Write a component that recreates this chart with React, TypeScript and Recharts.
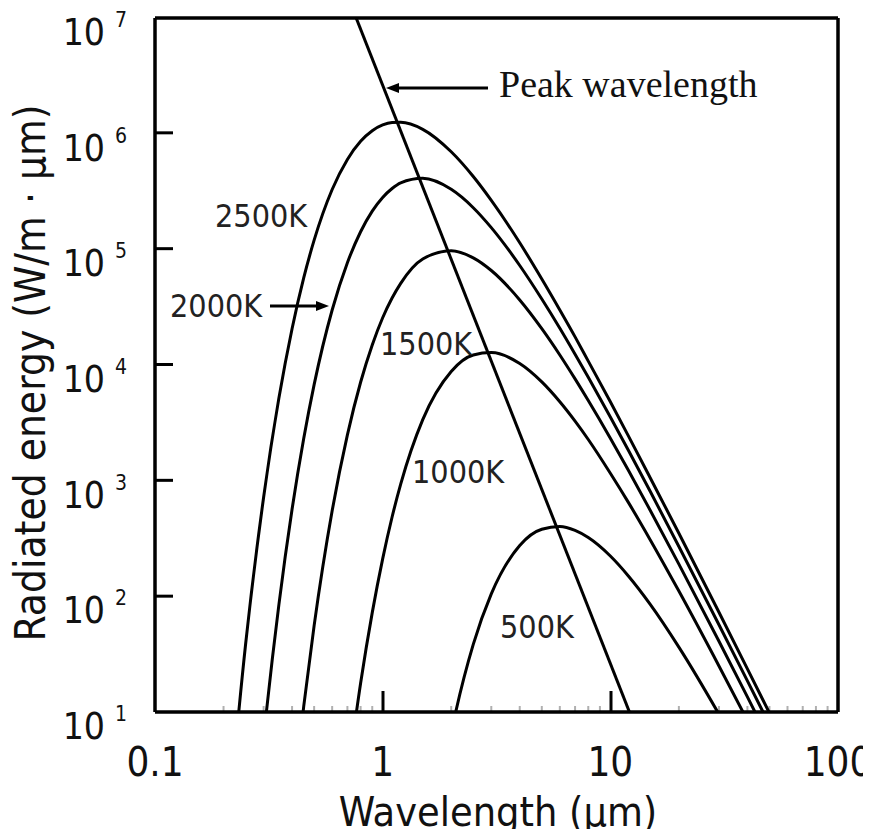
import React from 'react';
import { LineChart, Line, XAxis, YAxis, ReferenceLine } from 'recharts';

// wavelength in micrometres
const wavelengths = [0.2, 0.25, 0.3, 0.35, 0.4, 0.45, 0.5, 0.6, 0.7, 0.8, 0.9, 1, 1.1, 1.2, 1.5, 2, 2.5, 3, 4, 5, 6, 7, 8, 10, 12, 15, 20, 30, 40, 50, 60];

// radiated energy W/(m^2 um)
const k2500 = [0.37, 38.5, 718, 5150, 20600, 56600, 120000, 329000, 599000, 859000, 1060000, 1190000, 1248000, 1253000, 1090000, 697000, 426000, 265000, 114000, 55400, 29900, 17500, 10800, 4810, 2440, 1050, 351, 72.8, 23.6, 9.8, 4.78];
const k2000 = [null, 0.122, 5.93, 84.4, 565, 2310, 6760, 29900, 76600, 142000, 214000, 281000, 336000, 376000, 411000, 330000, 229000, 154000, 72500, 37200, 20800, 12400, 7830, 3550, 1830, 801, 270, 56.8, 18.6, 7.74, 3.78];
const k1500 = [null, null, null, 0.089, 1.41, 11.2, 55.8, 549, 2490, 7090, 14900, 25600, 37900, 50800, 82500, 97400, 84400, 65600, 36500, 20600, 12200, 7580, 4930, 2330, 1230, 550, 190, 40.9, 13.5, 5.66, null];
const k1000 = [null, null, null, null, null, null, null, null, 2.64, 17.7, 72.3, 211, 485, 933, 3370, 8790, 12200, 12800, 10300, 7140, 4810, 3270, 2270, 1160, 649, 306, 111, 25.0, 8.44, 3.59, null];
const k500 = [null, null, null, null, null, null, null, null, null, null, null, null, null, null, 0.23, 6.6, 38.4, 105, 275, 380, 401, 371, 322, 223, 150, 84.8, 36.4, 9.57, 3.47, null, null];
// peak wavelength line (Wien), two end points
const peak = [null, null, null, null, null, null, null, null, 15600000, null, null, null, null, null, null, null, null, null, null, null, null, null, null, null, null, 3.46, null, null, null, null, null];

const xMajor = [0.1, 1, 10, 100];
const xMajorLabels = ['0.1', '1', '10', '100'];
const xMinor = [0.2, 0.3, 0.4, 0.5, 0.6, 0.7, 0.8, 0.9, 2, 3, 4, 5, 6, 7, 8, 9, 20, 30, 40, 50, 60, 70, 80, 90];
const yTicks = [10, 100, 1000, 10000, 100000, 1000000, 10000000];
const yExponents = ['1', '2', '3', '4', '5', '6', '7'];

const data = wavelengths.map((lambda, i) => ({
  lambda,
  k2500: k2500[i],
  k2000: k2000[i],
  k1500: k1500[i],
  k1000: k1000[i],
  k500: k500[i],
  peak: peak[i],
}));

const X_MIN = 0.1;
const X_MAX = 100;
const Y_MIN = 10;
const Y_MAX = 10000000;

// plot box in px (chart margins + axis sizes below)
const PLOT = { left: 155, top: 17, right: 839, bottom: 712 };
const xDecadePx = (PLOT.right - PLOT.left) / 3;
const yDecadePx = (PLOT.bottom - PLOT.top) / 6;
const up = (px: number) => Y_MIN * Math.pow(10, px / yDecadePx);
const px = (v: number) => PLOT.left + Math.log10(v / X_MIN) * xDecadePx;
const py = (v: number) => PLOT.bottom - Math.log10(v / Y_MIN) * yDecadePx;

const sans = '"DejaVu Sans Condensed", "DejaVu Sans", sans-serif';
const serif = '"Liberation Serif", "DejaVu Serif", serif';

const XLabel = (props: any) => {
  const { x, y, payload } = props;
  const i = xMajor.findIndex((m) => Math.abs(m - payload.value) < 1e-9);
  return (
    <text x={x} y={y + 64} textAnchor="middle" fontFamily={sans} fontSize={40} fill="#111">
      {xMajorLabels[i]}
    </text>
  );
};

const YLabel = (props: any) => {
  const { x, y, payload } = props;
  const i = yTicks.indexOf(payload.value);
  return (
    <g>
      <text x={x - 50} y={y + 27} textAnchor="end" fontFamily={sans} fontSize={37} fill="#111">
        10
      </text>
      <text x={x - 40} y={y + 9} fontFamily={sans} fontSize={21} fill="#111">
        {yExponents[i]}
      </text>
    </g>
  );
};

const curve = { type: 'monotone' as const, stroke: '#000', strokeWidth: 3, dot: false, isAnimationActive: false };
const frame = { stroke: '#000', strokeWidth: 3.5 };

export default function App() {
  return (
    <div style={{ position: 'relative', width: 871, height: 837, margin: -8, background: '#fff', overflow: 'hidden' }}>
      <LineChart width={871} height={837} data={data} margin={{ top: 17, right: 32, bottom: 0, left: 0 }}>
        <XAxis
          dataKey="lambda"
          type="number"
          scale="log"
          domain={[X_MIN, X_MAX]}
          ticks={xMajor}
          interval={0}
          tick={<XLabel />}
          tickLine={false}
          tickSize={0}
          tickMargin={0}
          height={125}
          allowDataOverflow
          axisLine={frame}
        />
        <XAxis xAxisId="top" orientation="top" type="number" scale="log" domain={[X_MIN, X_MAX]} height={1} tick={false} tickLine={false} axisLine={frame} allowDataOverflow />
        <YAxis
          type="number"
          scale="log"
          domain={[Y_MIN, Y_MAX]}
          ticks={yTicks}
          interval={0}
          tick={<YLabel />}
          tickLine={false}
          tickSize={0}
          tickMargin={0}
          width={155}
          allowDataOverflow
          axisLine={frame}
        />
        <YAxis yAxisId="right" orientation="right" type="number" scale="log" domain={[Y_MIN, Y_MAX]} width={1} tick={false} tickLine={false} axisLine={frame} allowDataOverflow />
        {xMinor.map((v) => (
          <ReferenceLine key={`xm${v}`} segment={[{ x: v, y: Y_MIN }, { x: v, y: up(6) }]} stroke="#b0b0b0" strokeWidth={2} />
        ))}
        <Line dataKey="k2500" {...curve} />
        <Line dataKey="k2000" {...curve} />
        <Line dataKey="k1500" {...curve} />
        <Line dataKey="k1000" {...curve} />
        <Line dataKey="k500" {...curve} />
        <Line dataKey="peak" type="linear" stroke="#000" strokeWidth={3} dot={false} connectNulls isAnimationActive={false} />
      </LineChart>
      <svg width={871} height={837} style={{ position: 'absolute', left: 0, top: 0, pointerEvents: 'none' }}>
        {/* inward major ticks */}
        {xMajor.slice(1, -1).map((v) => (
          <line key={`xt${v}`} x1={px(v)} x2={px(v)} y1={PLOT.bottom} y2={PLOT.bottom - 21} stroke="#000" strokeWidth={3} />
        ))}
        {yTicks.slice(1, -1).map((v) => (
          <line key={`yt${v}`} x1={PLOT.left} x2={PLOT.left + 18} y1={py(v)} y2={py(v)} stroke="#000" strokeWidth={3} />
        ))}
        <text x={499} y={97} fontFamily={serif} fontSize={38} fill="#111">Peak wavelength</text>
        <line x1={488} y1={88} x2={395} y2={88} stroke="#000" strokeWidth={3} />
        <polygon points="386,88 399,83 399,93" fill="#000" />
        <g fontFamily={sans} fontSize={32} fill="#222">
          <text x={215} y={227}>2500K</text>
          <text x={170} y={317}>2000K</text>
          <text x={380} y={355}>1500K</text>
          <text x={412} y={483}>1000K</text>
          <text x={500} y={638}>500K</text>
        </g>
        <line x1={270} y1={306} x2={318} y2={306} stroke="#000" strokeWidth={3} />
        <polygon points="329,306 316,301 316,311" fill="#000" />
        <text x={498} y={826} textAnchor="middle" fontFamily={sans} fontSize={41} fill="#111">Wavelength (μm)</text>
        <text transform="translate(45,373) rotate(-90)" textAnchor="middle" fontFamily={sans} fontSize={42} fill="#111">
          Radiated energy (W/m · μm)
        </text>
      </svg>
    </div>
  );
}
